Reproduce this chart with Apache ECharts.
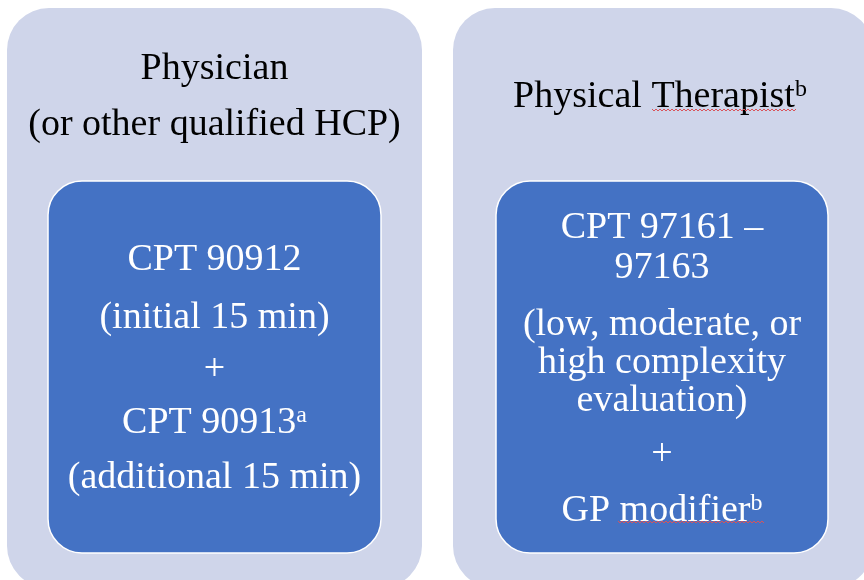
<!DOCTYPE html>
<html><head><meta charset="utf-8">
<script src="https://cdn.jsdelivr.net/npm/echarts@6/dist/echarts.min.js"></script>
<style>html,body{margin:0;padding:0;background:#fff}#c{width:864px;height:580px}</style>
</head><body><div id="c"></div>
<script>
// Text content (diagram data)
const leftTitle = ['Physician', '(or other qualified HCP)'];
const rightTitle = ['Physical Therapist{sup|b}'];
const leftLines = ['CPT 90912', '(initial 15 min)', '+', 'CPT 90913{sup|a}', '(additional 15 min)'];
const rightLines = ['CPT 97161 –', '97163', '(low, moderate, or', 'high complexity', 'evaluation)', '+', 'GP modifier{sup|b}'];

// Layout
const L = {
  outerL: {x: 7, y: 8, w: 415, h: 580, r: 42},
  outerR: {x: 453, y: 8, w: 420, h: 580, r: 42},
  innerL: {x: 48, y: 181, w: 333, h: 372, r: 34},
  innerR: {x: 496, y: 181, w: 332, h: 372, r: 34},
  leftTitleY: [69, 125],
  rightTitleY: [97],
  leftY: [260, 318, 370, 423, 478],
  rightY: [228, 268, 325, 363, 401, 455, 511],
  cxL: 214.5, cxR: 662
};
const FONT = "'Liberation Serif', 'Times New Roman', serif";
const FS = 38;

function textEl(str, x, y, color) {
  return {
    type: 'text', x: x, y: y,
    style: {
      text: str, fill: color, font: FS + 'px ' + FONT,
      align: 'center', verticalAlign: 'middle',
      lineHeight: 40,
      rich: {
        sup: {fontSize: 24, fontFamily: FONT, fill: color, lineHeight: 26, verticalAlign: 'top', padding: [1, 0, 0, 0]}
      }
    }
  };
}
function rect(b, fill, stroke) {
  return {type: 'rect', shape: {x: b.x, y: b.y, width: b.w, height: b.h, r: b.r},
    style: {fill: fill, stroke: stroke || null, lineWidth: stroke ? 1.5 : 0}};
}
function squiggle(x0, x1, y) {
  const pts = [];
  for (let x = x0, i = 0; x <= x1; x += 2, i++) pts.push([x, y + (i % 2 ? 1 : -1)]);
  return {type: 'polyline', shape: {points: pts}, style: {stroke: '#d9535a', lineWidth: 1, fill: null}};
}

const els = [
  rect(L.outerL, '#cfd5ea'),
  rect(L.outerR, '#cfd5ea'),
  rect(L.innerL, '#4472c4', '#ffffff'),
  rect(L.innerR, '#4472c4', '#ffffff')
];
leftTitle.forEach((t, i) => els.push(textEl(t, L.cxL, L.leftTitleY[i], '#000')));
rightTitle.forEach((t, i) => els.push(textEl(t, 660, L.rightTitleY[i], '#000')));
leftLines.forEach((t, i) => els.push(textEl(t, L.cxL, L.leftY[i], '#fff')));
rightLines.forEach((t, i) => els.push(textEl(t, L.cxR, L.rightY[i], '#fff')));
els.push(squiggle(652, 797, 110));
els.push(squiggle(618, 764, 522));

const chart = echarts.init(document.getElementById('c'), null, {renderer: 'canvas'});
chart.setOption({animation: false, graphic: {elements: els}});
</script></body></html>
